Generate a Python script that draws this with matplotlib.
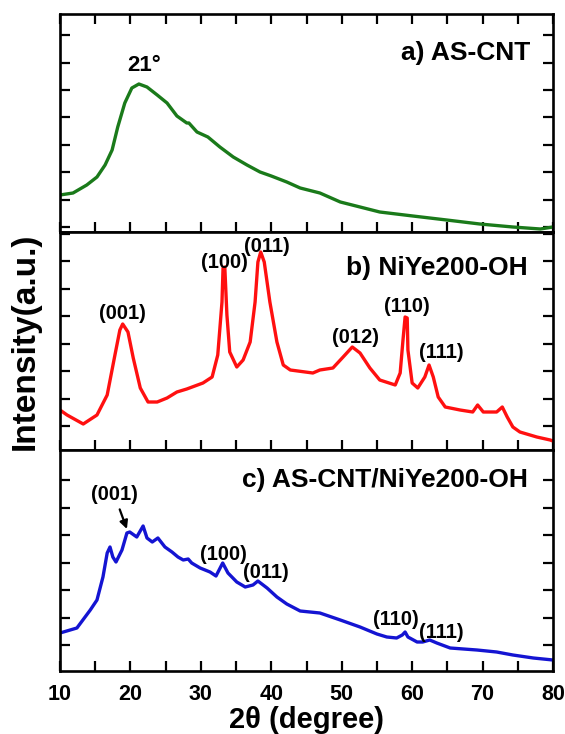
import numpy as np
import matplotlib
matplotlib.use("Agg")
import matplotlib.pyplot as plt
from matplotlib.ticker import MultipleLocator

plt.rcParams['font.family'] = ['Liberation Sans', 'DejaVu Sans']
plt.rcParams['font.weight'] = 'bold'

# a) AS-CNT
theta_a = [10.0, 11.85, 13.8, 15.25, 16.4, 17.4, 18.2, 19.2, 20.2, 21.2, 22.35, 23.8,
           25.2, 26.6, 28.0, 28.3, 29.45, 31.0, 32.7, 34.6, 36.55, 38.4, 40.0, 42.2,
           44.1, 46.9, 49.8, 52.6, 55.4, 60.1, 64.9, 69.6, 74.3, 78.2, 80.0]
int_a = [37, 39, 47, 55, 67, 82, 105, 129, 144, 148, 145, 137,
         129, 116, 109, 109, 100, 95, 85, 75, 67, 60, 56, 50,
         44, 39, 30, 25, 20, 16, 12, 8, 5, 3, 5]

# b) NiYe200-OH
theta_b = [10.0, 11.0, 13.3, 15.25, 16.7, 17.8, 18.5, 18.9, 19.65, 20.4, 21.4, 22.5,
           23.8, 25.2, 26.6, 28.0, 30.3, 31.6, 32.4, 33.0, 33.15, 33.4, 33.7, 34.1,
           35.1, 36.0, 37.0, 37.7, 38.1, 38.5, 39.0, 39.8, 40.8, 41.7, 42.7, 45.9,
           46.9, 48.75, 50.2, 51.5, 52.6, 54.0, 55.4, 57.6, 58.3, 58.7, 59.0, 59.3,
           59.4, 60.0, 60.8, 61.8, 62.4, 63.0, 63.7, 64.7, 66.8, 68.6, 69.3, 70.1,
           72.0, 72.8, 73.5, 74.3, 75.3, 77.7, 79.6, 80.0]
int_b = [40, 35, 26, 35, 55, 95, 120, 126, 118, 92, 62, 48,
         48, 52, 58, 61, 67, 73, 95, 148, 182, 183, 135, 98,
         83, 90, 108, 148, 188, 198, 188, 148, 108, 85, 80, 77,
         80, 82, 93, 103, 97, 82, 70, 65, 77, 110, 133, 132,
         100, 67, 62, 73, 85, 73, 53, 43, 40, 38, 45, 38,
         38, 43, 33, 23, 18, 13, 10, 9]

# c) AS-CNT/NiYe200-OH
theta_c = [10.0, 12.4, 14.3, 15.25, 16.1, 16.7, 17.1, 17.5, 17.95, 18.8, 19.5, 19.9,
           20.9, 21.8, 22.35, 23.1, 23.9, 24.9, 25.9, 26.75, 27.5, 28.2, 28.7, 29.9,
           31.3, 32.15, 33.1, 33.85, 35.1, 36.3, 37.4, 38.1, 39.4, 40.8, 42.2, 44.1,
           46.9, 49.8, 52.6, 55.0, 56.4, 57.8, 58.6, 59.0, 59.4, 60.7, 61.5, 62.5,
           63.5, 65.4, 69.2, 72.0, 74.3, 77.2, 80.0]
int_c = [38, 43, 61, 71, 94, 118, 124, 114, 109, 121, 138, 139,
         134, 145, 133, 129, 133, 124, 119, 114, 111, 112, 108, 103,
         99, 95, 108, 98, 89, 84, 86, 90, 83, 74, 67, 60,
         58, 51, 44, 37, 34, 33, 36, 39, 34, 29, 29, 31,
         28, 23, 21, 19, 16, 13, 11]

# peak labels: (text, 2theta, intensity)
labels_b = [("(001)", 18.8, 131), ("(100)", 33.3, 182), ("(011)", 39.4, 198),
            ("(012)", 52.0, 107), ("(110)", 59.3, 138), ("(111)", 64.1, 92)]
labels_c = [("(100)", 33.2, 111), ("(011)", 39.2, 93),
            ("(110)", 57.7, 46), ("(111)", 64.1, 33)]

W, H = 565, 734
fig = plt.figure(figsize=(W / 100, H / 100), dpi=100)

left = 60 / W
width = (553 - 60) / W
ax_a = fig.add_axes([left, (H - 232) / H, width, 218 / H])
ax_b = fig.add_axes([left, (H - 450) / H, width, 218 / H])
ax_c = fig.add_axes([left, (H - 671) / H, width, 221 / H])

ax_a.plot(theta_a, int_a, color='#1a7a1a', lw=2.4, solid_joinstyle='round')
ax_b.plot(theta_b, int_b, color='#ff1010', lw=2.4, solid_joinstyle='round')
ax_c.plot(theta_c, int_c, color='#1414d2', lw=2.4, solid_joinstyle='round')

ax_a.set_ylim(0, 218)
ax_b.set_ylim(0, 218)
ax_c.set_ylim(0, 221)
ax_a.set_yticks(np.arange(5, 218, 27.4))
ax_b.set_yticks(np.arange(24, 218, 27.5))
ax_c.set_yticks(np.arange(26, 200, 27.5))

for ax in (ax_a, ax_b, ax_c):
    ax.set_xlim(10, 80)
    ax.xaxis.set_major_locator(MultipleLocator(10))
    ax.xaxis.set_minor_locator(MultipleLocator(5))
    ax.tick_params(which='both', direction='in', length=7, width=1.6,
                   left=True, right=True, top=False, bottom=True,
                   labelleft=False, labelbottom=False)
    for s in ax.spines.values():
        s.set_linewidth(1.9)

ax_a.tick_params(which='both', top=True)
ax_c.tick_params(axis='x', labelbottom=True, labelsize=15.5, pad=9)
for t in ax_c.get_xticklabels():
    t.set_fontweight('bold')

ax_a.text(0.953, 0.789, "a) AS-CNT", transform=ax_a.transAxes,
          ha='right', va='baseline', fontsize=19, fontweight='bold')
ax_b.text(0.949, 0.803, "b) NiYe200-OH", transform=ax_b.transAxes,
          ha='right', va='baseline', fontsize=19, fontweight='bold')
ax_c.text(0.949, 0.833, "c) AS-CNT/NiYe200-OH", transform=ax_c.transAxes,
          ha='right', va='baseline', fontsize=19, fontweight='bold')

ax_a.text(21.9, 161, "21°", ha='center', va='baseline', fontsize=16, fontweight='bold')
for txt, x, y in labels_b:
    ax_b.text(x, y, txt, ha='center', va='baseline', fontsize=14.5, fontweight='bold')
for txt, x, y in labels_c:
    ax_c.text(x, y, txt, ha='center', va='baseline', fontsize=14.5, fontweight='bold')
ax_c.annotate("(001)", xy=(19.5, 142), xytext=(17.7, 171),
              ha='center', va='baseline', fontsize=14.5, fontweight='bold',
              arrowprops=dict(arrowstyle='-|>', color='black', lw=1.6,
                              shrinkA=2, shrinkB=0, mutation_scale=12))

ax_c.set_xlabel("2θ (degree)", fontsize=21, fontweight='bold', labelpad=1)
ax_b.set_ylabel("Intensity(a.u.)", fontsize=24, fontweight='bold', labelpad=14)

fig.savefig("out.png", dpi=100)
